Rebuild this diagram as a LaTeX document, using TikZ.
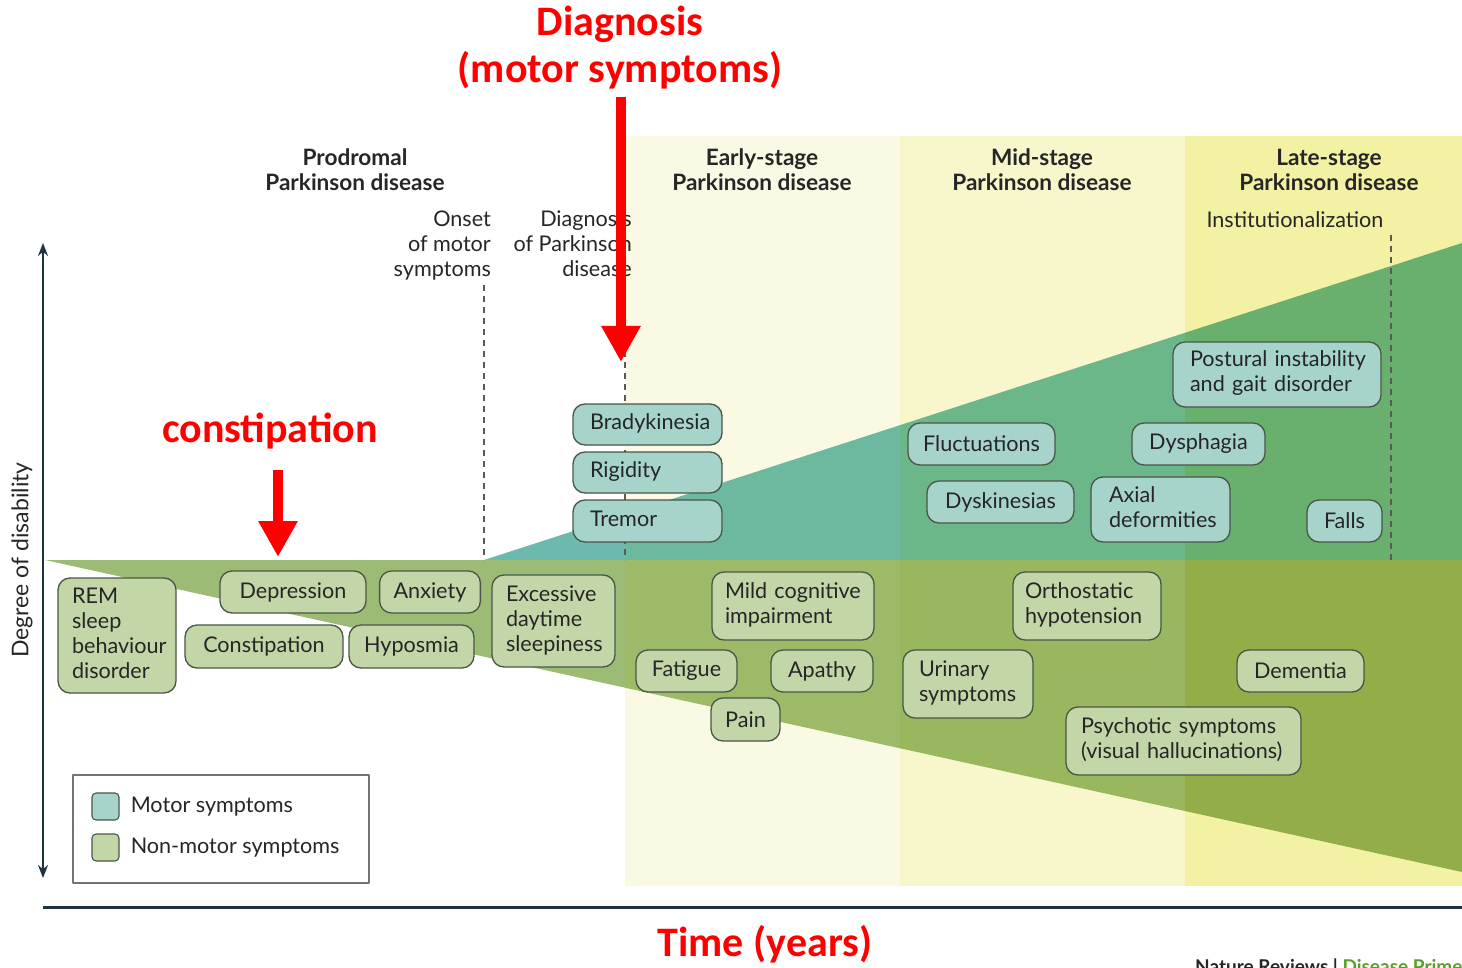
\documentclass[tikz,border=0pt]{standalone}
\usepackage{fontspec}
\setmainfont{Lato}
\newfontfamily\notefont{Carlito}
\usetikzlibrary{arrows.meta,positioning}
\definecolor{bandB}{HTML}{FAF9E4}
\definecolor{bandC}{HTML}{F8F6CB}
\definecolor{bandD}{HTML}{F3F1A3}
\definecolor{motA}{HTML}{6DB9AD}
\definecolor{motB}{HTML}{6CB99F}
\definecolor{motC}{HTML}{6BB78A}
\definecolor{motD}{HTML}{69B06E}
\definecolor{nmA}{HTML}{9CBB74}
\definecolor{nmB}{HTML}{9CBA67}
\definecolor{nmC}{HTML}{99B75E}
\definecolor{nmD}{HTML}{93AE48}
\definecolor{nmfill}{HTML}{C3D6A7}
\definecolor{mofill}{HTML}{A6D4CB}
\definecolor{boxline}{HTML}{4A5548}
\definecolor{ink}{HTML}{262626}
\definecolor{axiscol}{HTML}{1F3340}
\definecolor{nrgreen}{HTML}{5A9E2A}
% left-set lines that never break
\newcommand\lns[1]{\begin{tabular}{@{}l@{}}#1\end{tabular}}
\begin{document}
\begin{tikzpicture}[x=1pt,y=-1pt,font=\fontsize{21.6}{25}\selectfont,line join=round,text=ink]
	\tikzset{
		nm/.style={draw=boxline,fill=nmfill,rounded corners=12pt,line width=1.3pt,inner xsep=14pt,inner ysep=0pt},
		mo/.style={nm,fill=mofill},
		head/.style={align=center,font=\bfseries\fontsize{22.6}{25}\selectfont},
		marker/.style={align=right,anchor=north east,inner sep=0pt},
		stageline/.style={draw=black!65,line width=1.4pt,dash pattern=on 6pt off 5pt},
		axis/.style={draw=axiscol,line width=2.6pt},
		note/.style={text=red,font=\notefont\bfseries\fontsize{42}{46}\selectfont},
		redarrow/.style={draw=red,line width=10pt,-{Triangle[length=36pt,width=37pt]}}
	}
	\useasboundingbox (0,0) rectangle (1462,968);
	\clip (0,0) rectangle (1462,968);
	% stages
	\fill[bandB] (625,136) rectangle (900,886);
	\fill[bandC] (900,136) rectangle (1185,886);
	\fill[bandD] (1185,136) rectangle (1462,886);
	\foreach \xa/\xb/\cm/\cn in {0/625/motA/nmA,625/900/motB/nmB,900/1185/motC/nmC,1185/1462/motD/nmD}{
		\begin{scope}
			\clip (\xa,0) rectangle (\xb,968);
			\fill[\cm] (484,560)--(1462,243)--(1462,560)--cycle;
			\fill[\cn] (45,560)--(1462,560)--(1462,872)--cycle;
		\end{scope}
	}
	\draw[stageline] (484,285)--(484,560);
	\draw[stageline] (625,285)--(625,560);
	\draw[stageline] (1391,235)--(1391,560);
	% headings
	\node[head] (prod) at (355,170) {Prodromal\\Parkinson disease};
	\node[head] (early) at (762,170) {Early-stage\\Parkinson disease};
	\node[head] (mid) at (1042,170) {Mid-stage\\Parkinson disease};
	\node[head] (late) at (1329,170) {Late-stage\\Parkinson disease};
	\node[marker] (onset) at (491,211) {Onset\\of motor\\symptoms};
	\node[marker] (diag) at (632,211) {Diagnosis\\of Parkinson\\disease};
	\node (inst) at (1295,220) {Institutionalization};
	% non-motor symptoms
	\node[nm,text width=90,minimum height=115] (rem) at (117,635.5) {\lns{REM\\sleep\\behaviour\\disorder}};
	\node[nm,minimum width=146,minimum height=42] (dep) at (293,592) {Depression};
	\node[nm,minimum width=98,minimum height=42] (anx) at (430,592) {Anxiety};
	\node[nm,minimum width=158,minimum height=43] (con) at (264,646.5) {Constipation};
	\node[nm,minimum width=125,minimum height=43] (hyp) at (411.5,646.5) {Hyposmia};
	\node[nm,text width=95,minimum height=92] (eds) at (553.5,621) {\lns{Excessive\\daytime\\sleepiness}};
	\node[nm,inner xsep=13pt,text width=136,minimum height=68] (mci) at (793,606) {\lns{Mild cognitive\\impairment}};
	\node[nm,minimum width=101,minimum height=42] (fat) at (686.5,671) {Fatigue};
	\node[nm,minimum width=102,minimum height=42] (apa) at (822,671) {Apathy};
	\node[nm,minimum width=69,minimum height=43] (pain) at (745.5,719.5) {Pain};
	\node[nm,inner xsep=16pt,text width=98,minimum height=68] (uri) at (968,684) {\lns{Urinary\\symptoms}};
	\node[nm,inner xsep=12pt,text width=124,minimum height=68] (ortho) at (1087,606) {\lns{Orthostatic\\hypotension}};
	\node[nm,minimum width=127,minimum height=42] (dem) at (1300.5,671) {Dementia};
	\node[nm,inner xsep=15pt,text width=205,minimum height=68] (psy) at (1183.5,741) {\lns{Psychotic symptoms\\(visual hallucinations)}};
	% motor symptoms
	\node[mo,inner xsep=17pt,text width=115,minimum height=41] (brady) at (647.5,424.5) {\lns{Bradykinesia}};
	\node[mo,inner xsep=17pt,text width=115,minimum height=41] (rig) at (647.5,472.5) {\lns{Rigidity}};
	\node[mo,inner xsep=17pt,text width=115,minimum height=42] (trem) at (647.5,521) {\lns{Tremor}};
	\node[mo,minimum width=147,minimum height=42] (fluc) at (981.5,444) {Fluctuations};
	\node[mo,minimum width=133,minimum height=42] (dysph) at (1198.5,444) {Dysphagia};
	\node[mo,minimum width=147,minimum height=42] (dysk) at (1000.5,502) {Dyskinesias};
	\node[mo,inner xsep=18pt,text width=103,minimum height=65] (axial) at (1160.5,509.5) {\lns{Axial\\deformities}};
	\node[mo,minimum width=75,minimum height=42] (falls) at (1344.5,521) {Falls};
	\node[mo,inner xsep=17pt,text width=174,minimum height=65] (post) at (1277,374.5) {\lns{Postural instability\\and gait disorder}};
	% axes
	\draw[axis,{Stealth[length=13pt,width=10pt]}-{Stealth[length=13pt,width=10pt]}] (43,243)--(43,878);
	\draw[axis,line width=3pt] (43,907)--(1462,907);
	\node[rotate=90,font=\fontsize{23}{25}\selectfont] (ylab) at (22,560) {Degree of disability};
	% legend
	\draw[draw=black!55,line width=1.5pt] (73,775) rectangle (369,883);
	\node[mo,minimum size=27,inner sep=0pt,rounded corners=4pt,line width=1.1pt] (kmo) at (105.5,806.5) {};
	\node[nm,minimum size=27,inner sep=0pt,rounded corners=4pt,line width=1.1pt] (knm) at (105.5,847.5) {};
	\node[right=11pt of kmo,inner sep=0pt] (lmo) {Motor symptoms};
	\node[right=11pt of knm,inner sep=0pt] (lnm) {Non-motor symptoms};
	% annotations
	\node[note] (dtitle) at (620,24) {Diagnosis};
	\node[note] (dsub) at (620,70) {(motor symptoms)};
	\node[note] (ctitle) at (270,431) {constipation};
	\node[note] (time) at (765,944) {Time (years)};
	\coordinate (dtop) at (621,97);
	\coordinate (dtip) at (621,362);
	\coordinate (ctop) at (278,470);
	\coordinate (ctip) at (278,557);
	\draw[redarrow] (dtop)--(dtip);
	\draw[redarrow] (ctop)--(ctip);
	\node[anchor=base west,inner sep=0pt,font=\bfseries\fontsize{19}{22}\selectfont] (src) at (1195,973) {Nature Reviews | \textcolor{nrgreen}{Disease Primers}};
\end{tikzpicture}
\end{document}
